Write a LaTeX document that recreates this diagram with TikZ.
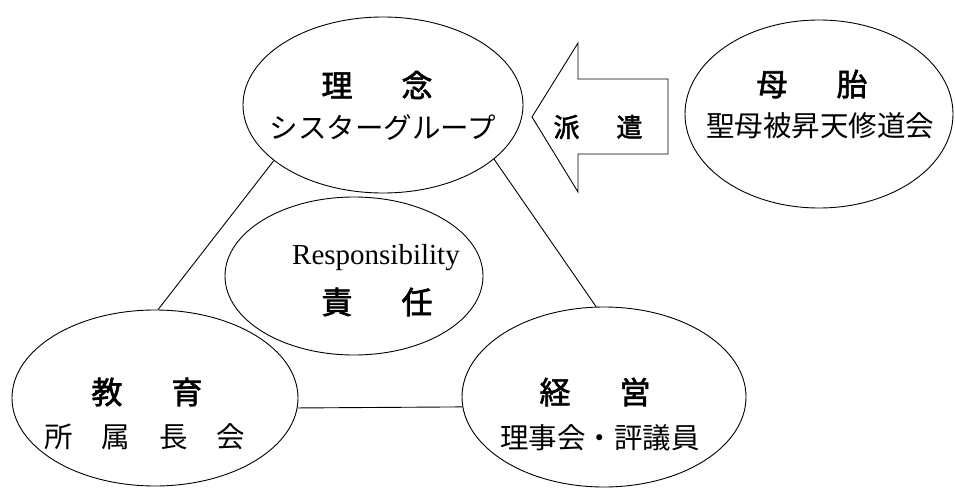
\documentclass[tikz,border=0pt]{standalone}
\usepackage{fontspec}
\setmainfont{Liberation Serif}
\newfontfamily\jp{Noto Sans CJK JP}
\newfontfamily\jpb{Noto Sans CJK JP}[FakeBold=2]
\usetikzlibrary{shapes.geometric}
\tikzset{
  oval/.style={draw, ellipse, line width=0.9pt, inner sep=0pt},
  ttl/.style={font=\jpb\fontsize{31}{34}\selectfont, inner sep=0pt, anchor=center},
  sub/.style={font=\jp\fontsize{28.5}{31}\selectfont, inner sep=0pt, anchor=center},
  link/.style={line width=0.9pt},
}
\begin{document}
\begin{tikzpicture}[x=1pt,y=-1pt]
\useasboundingbox (0,0) rectangle (955,487);
% ellipses
\node[oval, minimum width=280pt, minimum height=176pt] (rinen) at (383,105) {};
\node[oval, minimum width=268pt, minimum height=188pt] (botai) at (819,114) {};
\node[oval, minimum width=258pt, minimum height=158pt] (seki) at (354,276) {};
\node[oval, minimum width=286pt, minimum height=176pt] (kyoiku) at (155,398) {};
\node[oval, minimum width=284pt, minimum height=180pt] (keiei) at (604,397) {};
% texts
\node[ttl] (rinenT) at (377,85) {理\hspace{49pt}念};
\node[sub] (rinenS) at (383,128) {シスターグループ};
\node[ttl] (botaiT) at (812,84) {母\hspace{49pt}胎};
\node[sub] (botaiS) at (820,126) {聖母被昇天修道会};
\node[font=\rmfamily\fontsize{29}{32}\selectfont, inner sep=0pt] (sekiE) at (376,258) {Responsibility};
\node[ttl] (sekiT) at (377,302) {責\hspace{49pt}任};
\node[ttl] (kyoikuT) at (147,392) {教\hspace{49pt}育};
\node[sub] (kyoikuS) at (145,437) {所\hspace{29pt}属\hspace{29pt}長\hspace{29pt}会};
\node[ttl] (keieiT) at (595,392) {経\hspace{49pt}営};
\node[sub] (keieiS) at (600,438) {理事会・評議員};
% arrow
\draw[line width=0.9pt, line join=miter] (668,79) -- (578,79) -- (578,43) -- (532,117) -- (578,192) -- (578,154) -- (668,154) -- cycle;
\node[font=\jpb\fontsize{26}{28}\selectfont, inner sep=0pt] (haken) at (598,127) {派\hspace{37pt}遣};
% connectors
\draw[link] (rinen.207) -- (kyoiku.88);
\draw[link] (rinen.334) -- (keiei.95);
\draw[link] (kyoiku.-4) -- (keiei.184);
\end{tikzpicture}
\end{document}
